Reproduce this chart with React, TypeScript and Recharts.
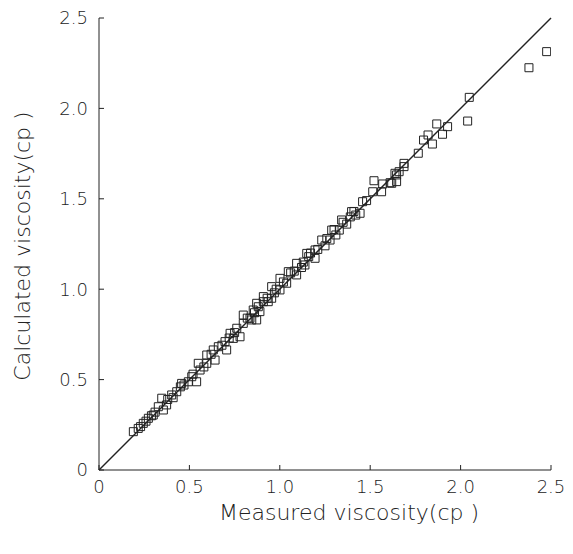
import React from "react";
import {
  ScatterChart,
  Scatter,
  XAxis,
  YAxis,
  ZAxis,
  ReferenceLine,
  Label,
} from "recharts";

// measured viscosity (cp), x values
const measured = [
  0.19, 0.217, 0.245, 0.273, 0.3, 0.328, 0.347, 0.356, 0.374, 0.402,
  0.43, 0.457, 0.494, 0.513, 0.54, 0.549, 0.559, 0.596, 0.596, 0.632,
  0.642, 0.66, 0.697, 0.706, 0.725, 0.743, 0.762, 0.78, 0.798, 0.798,
  0.835, 0.853, 0.872, 0.881, 0.909, 0.936, 0.845, 0.89, 0.872, 0.909,
  0.955, 0.955, 1.001, 1.001, 1.038, 1.047, 1.093, 1.093, 1.139, 1.149,
  1.195, 1.195, 1.232, 1.278, 1.287, 1.329, 1.342, 1.397, 1.444, 1.458,
  1.514, 1.521, 1.563, 1.569, 1.619, 1.61, 1.637, 1.646, 1.646, 1.687,
  1.687, 1.766, 1.795, 1.82, 1.844, 1.868, 1.9, 1.928, 2.039, 2.048,
  2.378, 2.476, 1.06, 1.12, 1.17, 1.25, 1.31, 1.37, 1.42, 0.98,
  0.23, 0.26, 0.29, 0.31, 0.38, 0.41, 0.45, 0.47, 0.52, 0.58,
  0.62, 0.68, 0.72, 0.75, 0.82, 0.86, 0.93, 0.97, 1.02, 1.08,
  1.13, 1.16, 1.21, 1.26, 1.3, 1.35, 1.39, 1.41, 1.48, 1.66,
];

// calculated viscosity (cp), y values
const calculated = [
  0.212, 0.23, 0.258, 0.286, 0.304, 0.35, 0.397, 0.332, 0.36, 0.415,
  0.433, 0.479, 0.488, 0.516, 0.488, 0.59, 0.553, 0.636, 0.59, 0.664,
  0.608, 0.682, 0.71, 0.664, 0.756, 0.728, 0.784, 0.737, 0.811, 0.857,
  0.839, 0.885, 0.83, 0.903, 0.931, 0.931, 0.83, 0.876, 0.922, 0.959,
  1.014, 0.95, 1.06, 0.996, 1.033, 1.097, 1.143, 1.079, 1.134, 1.198,
  1.217, 1.171, 1.272, 1.272, 1.327, 1.327, 1.383, 1.429, 1.42, 1.484,
  1.539, 1.6, 1.539, 1.582, 1.586, 1.589, 1.641, 1.632, 1.595, 1.696,
  1.678, 1.752, 1.825, 1.853, 1.803, 1.914, 1.857, 1.899, 1.93, 2.061,
  2.225, 2.314, 1.09, 1.12, 1.2, 1.24, 1.3, 1.36, 1.41, 1.0,
  0.24, 0.27, 0.3, 0.32, 0.39, 0.4, 0.46, 0.47, 0.53, 0.57,
  0.64, 0.69, 0.73, 0.76, 0.84, 0.87, 0.95, 0.98, 1.04, 1.1,
  1.15, 1.18, 1.22, 1.28, 1.33, 1.37, 1.4, 1.43, 1.49, 1.65,
];

const ticks = [0, 0.5, 1.0, 1.5, 2.0, 2.5];
const diagonal = [0, 2.5];

const points = measured.map((m, i) => ({ m, c: calculated[i] }));

const ink = "#222";
const font = "'DejaVu Sans', sans-serif";
const fmt = (v: number) => (v === 0 ? "0" : v.toFixed(1));
const blank = () => "";

export default function App() {
  return (
    <div style={{ margin: -8 }}>
      <ScatterChart
        width={573}
        height={554}
        margin={{ top: 18, right: 22, bottom: 24, left: 39 }}
        style={{ fontFamily: font }}
      >
        <XAxis
          xAxisId="b"
          type="number"
          dataKey="m"
          domain={[0, 2.5]}
          ticks={ticks}
          tickFormatter={fmt}
          height={60}
          stroke={ink}
          tickSize={-5}
          tickMargin={15}
          tick={{ fill: ink, fontSize: 18, fontWeight: 200 }}
          allowDataOverflow
        >
          <Label
            content={({ viewBox }: any) => (
              <text
                x={viewBox.x + viewBox.width / 2 + 24}
                y={viewBox.y + 50}
                textAnchor="middle"
                fill={ink}
                fontSize={22}
                fontWeight={200}
              >
                Measured viscosity(cp )
              </text>
            )}
          />
        </XAxis>
        <XAxis
          xAxisId="t"
          orientation="top"
          type="number"
          dataKey="m"
          domain={[0, 2.5]}
          ticks={ticks}
          tickFormatter={blank}
          height={0}
          stroke={ink}
          tickSize={-5}
          allowDataOverflow
        />
        <YAxis
          yAxisId="l"
          type="number"
          dataKey="c"
          domain={[0, 2.5]}
          ticks={ticks}
          tickFormatter={fmt}
          width={60}
          stroke={ink}
          tickSize={-5}
          tickMargin={16}
          tick={{ fill: ink, fontSize: 18, fontWeight: 200 }}
          allowDataOverflow
        >
          <Label
            content={({ viewBox }: any) => {
              const cx = viewBox.x - 17;
              const cy = viewBox.y + viewBox.height / 2 + 2;
              return (
                <text
                  x={cx}
                  y={cy}
                  transform={`rotate(-90 ${cx} ${cy})`}
                  textAnchor="middle"
                  dominantBaseline="central"
                  fill={ink}
                  fontSize={22}
                  fontWeight={200}
                >
                  Calculated viscosity(cp )
                </text>
              );
            }}
          />
        </YAxis>
        <YAxis
          yAxisId="r"
          orientation="right"
          type="number"
          dataKey="c"
          domain={[0, 2.5]}
          ticks={ticks}
          tickFormatter={blank}
          width={0}
          stroke={ink}
          tickSize={-5}
          allowDataOverflow
        />
        <ZAxis range={[80, 80]} />
        <ReferenceLine
          xAxisId="b"
          yAxisId="l"
          segment={[
            { x: diagonal[0], y: diagonal[0] },
            { x: diagonal[1], y: diagonal[1] },
          ]}
          stroke={ink}
          strokeWidth={1.5}
        />
        <Scatter
          xAxisId="b"
          yAxisId="l"
          data={points}
          shape="square"
          fill="none"
          stroke={ink}
          strokeWidth={1}
          isAnimationActive={false}
        />
      </ScatterChart>
    </div>
  );
}
